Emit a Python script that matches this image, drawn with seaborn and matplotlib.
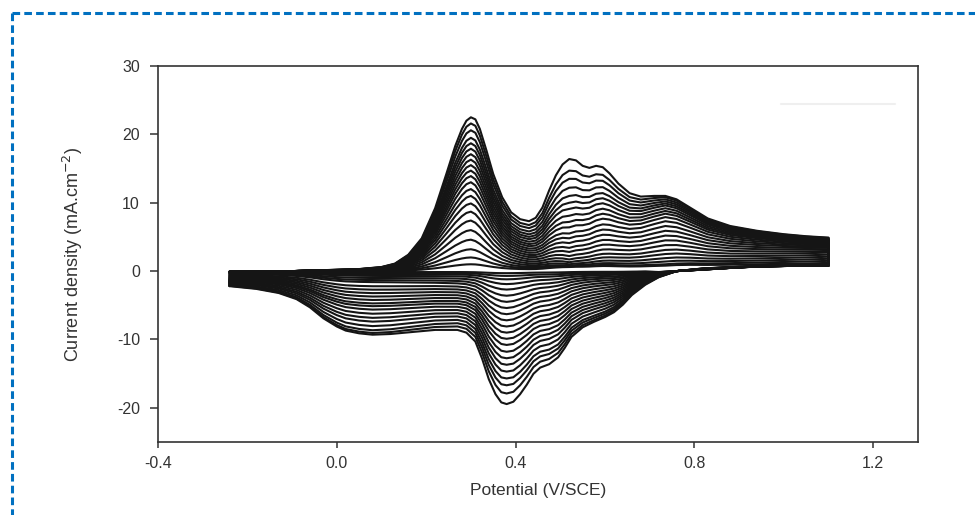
import numpy as np
import pandas as pd
import matplotlib
matplotlib.use('Agg')
import matplotlib.pyplot as plt
import seaborn as sns
from matplotlib.lines import Line2D

# Outermost (last) cycle, forward / anodic scan
E_FWD = [-0.24, -0.235, -0.20, -0.10, 0.00, 0.05, 0.10, 0.13, 0.16, 0.19, 0.22, 0.245, 0.265,
         0.28, 0.29, 0.30, 0.31, 0.32, 0.335, 0.35, 0.37, 0.39, 0.41, 0.43, 0.445, 0.46, 0.475,
         0.49, 0.505, 0.52, 0.535, 0.55, 0.565, 0.58, 0.595, 0.61, 0.63, 0.655, 0.68, 0.71,
         0.735, 0.76, 0.79, 0.83, 0.88, 0.94, 1.00, 1.05, 1.10]
J_FWD_LAST = [-2.2, -0.2, 0.0, 0.0, 0.2, 0.3, 0.6, 1.1, 2.4, 4.8, 9.2, 14.2, 18.3,
              20.8, 22.0, 22.5, 22.2, 20.8, 17.6, 14.2, 10.8, 8.6, 7.6, 7.3, 7.8, 9.3, 11.8,
              14.0, 15.6, 16.4, 16.2, 15.4, 15.1, 15.4, 15.2, 14.3, 12.8, 11.4, 10.9, 11.0,
              11.0, 10.5, 9.3, 7.7, 6.6, 5.9, 5.4, 5.1, 4.9]

# Outermost (last) cycle, reverse / cathodic scan
E_REV = [1.10, 1.00, 0.90, 0.82, 0.76, 0.72, 0.69, 0.66, 0.64, 0.62, 0.60, 0.575, 0.55,
         0.525, 0.51, 0.495, 0.475, 0.455, 0.44, 0.425, 0.41, 0.395, 0.38, 0.368, 0.355,
         0.34, 0.325, 0.31, 0.29, 0.27, 0.22, 0.17, 0.12, 0.08, 0.05, 0.02, 0.00, -0.03,
         -0.06, -0.09, -0.13, -0.18, -0.24]
J_REV_LAST = [0.8, 0.75, 0.65, 0.4, 0.0, -0.9, -2.0, -3.5, -4.9, -6.0, -6.7, -7.4, -8.2,
              -9.6, -11.2, -12.6, -13.6, -14.1, -15.0, -16.6, -18.0, -19.1, -19.45, -19.2, -18.0,
              -15.8, -12.8, -10.3, -9.0, -8.6, -8.6, -8.9, -9.2, -9.3, -9.1, -8.7, -8.1, -6.9,
              -5.3, -4.1, -3.2, -2.6, -2.2]

# Current read for every cycle (first -> last) at a few potentials
FWD_FEATURES = [0.30, 0.52, 0.735, 1.10]
AN_PEAK1 = [1.0, 2.0, 3.2, 4.6, 6.0, 7.4, 8.7, 9.9, 11.0, 12.0, 13.0, 13.9, 14.7, 15.5,
            16.3, 17.1, 17.9, 18.7, 19.5, 20.6, 21.6, 22.5]
AN_PEAK2 = [0.6, 0.7, 0.8, 1.0, 1.3, 1.7, 2.2, 2.8, 3.4, 4.1, 4.8, 5.5, 6.4, 7.2,
            8.1, 9.1, 10.0, 11.0, 12.2, 13.5, 14.7, 16.4]
AN_HUMP3 = [0.8, 1.0, 1.4, 1.9, 2.5, 3.1, 3.8, 4.5, 5.2, 5.9, 6.6, 7.3, 7.9, 8.4,
            8.8, 9.2, 9.6, 9.9, 10.2, 10.5, 10.8, 11.0]
AN_END = [1.2, 1.5, 1.8, 2.1, 2.4, 2.7, 2.95, 3.2, 3.4, 3.6, 3.75, 3.9, 4.05, 4.2,
          4.3, 4.4, 4.5, 4.6, 4.7, 4.75, 4.85, 4.9]

REV_FEATURES = [0.10, 0.38, 0.59, 0.69, 1.00]
CA_WAVE = [-0.15, -0.3, -0.5, -0.7, -1.0, -1.3, -1.6, -2.2, -2.7, -3.2, -3.7, -4.2, -4.7, -5.1,
           -5.6, -6.2, -6.8, -7.35, -8.0, -8.6, -9.0, -9.25]
CA_MAIN = [-0.3, -0.7, -1.2, -1.9, -2.7, -3.6, -4.5, -5.4, -6.3, -7.2, -8.1, -9.0, -9.9, -10.8,
           -11.8, -12.75, -13.7, -14.7, -15.7, -16.7, -17.9, -19.45]
CA_SHOULDER = [-0.1, -0.25, -0.4, -0.6, -0.85, -1.1, -1.4, -1.75, -2.1, -2.5, -2.9, -3.3, -3.7, -4.1,
               -4.5, -4.9, -5.3, -5.75, -6.2, -6.5, -6.8, -7.0]
CA_FOOT = [-0.05, -0.1, -0.15, -0.2, -0.3, -0.4, -0.5, -0.6, -0.7, -0.8, -0.9, -1.0, -1.1, -1.2,
           -1.3, -1.4, -1.5, -1.6, -1.7, -1.8, -1.9, -2.0]
CA_TAIL = [0.95, 0.95, 0.9, 0.9, 0.9, 0.85, 0.85, 0.85, 0.8, 0.8, 0.8, 0.8, 0.8, 0.75,
           0.75, 0.75, 0.75, 0.75, 0.75, 0.75, 0.75, 0.75]

# Build every cycle from the last one, scaled to the per-cycle readings
e_fwd = np.array(E_FWD)
e_rev = np.array(E_REV)
j_fwd = np.array(J_FWD_LAST)
j_rev = np.array(J_REV_LAST)
fwd_tab = np.array([AN_PEAK1, AN_PEAK2, AN_HUMP3, AN_END])
rev_tab = np.array([CA_WAVE, CA_MAIN, CA_SHOULDER, CA_FOOT, CA_TAIL])
fwd_ref = np.interp(FWD_FEATURES, e_fwd, j_fwd)
rev_ref = np.interp(REV_FEATURES, e_rev[::-1], j_rev[::-1])

frames = []
for k in range(len(AN_PEAK1)):
    s_f = np.interp(e_fwd, FWD_FEATURES, fwd_tab[:, k] / fwd_ref)
    s_r = np.interp(e_rev, REV_FEATURES, rev_tab[:, k] / rev_ref)
    E = np.concatenate([e_fwd, e_rev])
    J = np.concatenate([j_fwd * s_f, j_rev * s_r])
    frames.append(pd.DataFrame({'cycle': k, 'step': np.arange(len(E)), 'E': E, 'J': J}))
data = pd.concat(frames, ignore_index=True)

sns.set_style('ticks')
plt.rcParams['font.family'] = ['Liberation Sans', 'DejaVu Sans']
plt.rcParams['lines.scale_dashes'] = False
plt.rcParams['axes.unicode_minus'] = False

fig = plt.figure(figsize=(9.75, 5.15), dpi=100)
ax = fig.add_axes([0.162, 0.1417, 0.7795, 0.7301])

sns.lineplot(data=data, x='E', y='J', units='cycle', estimator=None, sort=False,
             color='#151515', lw=1.5, legend=False, ax=ax)

ax.set_xlim(-0.4, 1.3)
ax.set_ylim(-25, 30)
ax.set_xticks([-0.4, 0.0, 0.4, 0.8, 1.2])
ax.set_xticklabels(['-0.4', '0.0', '0.4', '0.8', '1.2'])
ax.set_yticks([-20, -10, 0, 10, 20, 30])
ax.tick_params(direction='out', width=1.1, colors='#333333', labelsize=11.5)
ax.tick_params(axis='x', length=4, pad=6)
ax.tick_params(axis='y', length=6, pad=7)
for sp in ax.spines.values():
    sp.set_visible(True)
    sp.set_color('#333333')
    sp.set_linewidth(1.2)
ax.set_xlabel('Potential (V/SCE)', fontsize=12.5, color='#333333', labelpad=9)
ax.set_ylabel('Current density (mA.cm$^{-2}$)', fontsize=13, color='#333333', labelpad=23)

# faint leftover line in upper right
ax.plot([0.82, 0.97], [0.9, 0.9], transform=ax.transAxes, color='#efefef', lw=1.5)

# blue dashed frame around the figure
border = dict(color='#0070C0', lw=2.2, dashes=(5.5, 3.0), transform=fig.transFigure)
fig.add_artist(Line2D([0.0123, 1.0], [0.9748, 0.9748], **border))
fig.add_artist(Line2D([0.0123, 0.0123], [0.9748, 0.0], **border))

fig.savefig('out.png', dpi=100)
plt.close()
